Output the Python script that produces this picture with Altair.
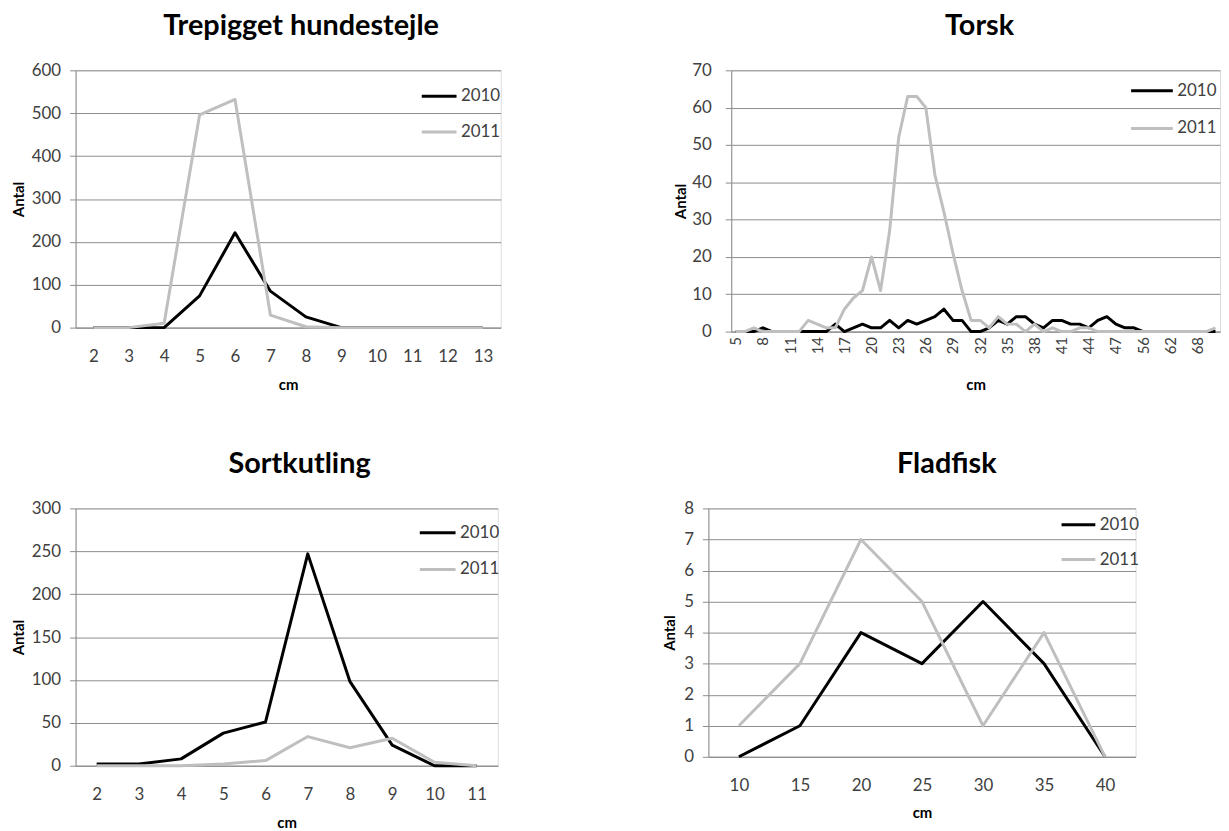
import altair as alt
import pandas as pd

YEARS = ["2010", "2011"]
COLORS = ["#000000", "#bfbfbf"]

# --- Trepigget hundestejle ---
tre_cm = ["2", "3", "4", "5", "6", "7", "8", "9", "10", "11", "12", "13"]
tre_2010 = [0, 0, 0, 74, 221, 85, 25, 0, 0, 0, 0, 0]
tre_2011 = [0, 0, 10, 496, 532, 29, 2, 0, 0, 0, 0, 0]
tre_ticks = [0, 100, 200, 300, 400, 500, 600]

# --- Torsk ---
torsk_cm = ["5", "6", "7", "8", "9", "10", "11", "12", "13", "14", "15",
            "16", "17", "18", "19", "20", "21", "22", "23", "24", "25",
            "26", "27", "28", "29", "30", "31", "32", "33", "34", "35",
            "36", "37", "38", "39", "40", "41", "42", "43", "44", "45",
            "46", "47", "48", "50", "56", "58", "60", "62", "64", "66",
            "68", "70", "72"]
torsk_2010 = [0, 0, 0, 1, 0, 0, 0, 0, 0, 0, 0,
              2, 0, 1, 2, 1, 1, 3, 1, 3, 2,
              3, 4, 6, 3, 3, 0, 0, 1, 3, 2,
              4, 4, 2, 1, 3, 3, 2, 2, 1, 3,
              4, 2, 1, 1, 0, 0, 0, 0, 0, 0,
              0, 0, 0]
torsk_2011 = [0, 0, 1, 0, 0, 0, 0, 0, 3, 2, 1,
              1, 6, 9, 11, 20, 11, 27, 52, 63, 63,
              60, 42, 32, 21, 11, 3, 3, 1, 4, 2,
              2, 0, 2, 0, 1, 0, 0, 1, 1, 0,
              0, 0, 0, 0, 0, 0, 0, 0, 0, 0,
              0, 0, 1]
torsk_labels = ["5", "8", "11", "14", "17", "20", "23", "26", "29", "32",
                "35", "38", "41", "44", "47", "56", "62", "68"]
torsk_ticks = [0, 10, 20, 30, 40, 50, 60, 70]

# --- Sortkutling ---
sort_cm = ["2", "3", "4", "5", "6", "7", "8", "9", "10", "11"]
sort_2010 = [2, 2, 8, 38, 51, 247, 98, 24, 0, 0]
sort_2011 = [0, 0, 0, 2, 6, 34, 21, 32, 4, 0]
sort_ticks = [0, 50, 100, 150, 200, 250, 300]

# --- Fladfisk ---
flad_cm = ["10", "15", "20", "25", "30", "35", "40"]
flad_2010 = [0, 1, 4, 3, 5, 3, 0]
flad_2011 = [1, 3, 7, 5, 1, 4, 0]
flad_ticks = [0, 1, 2, 3, 4, 5, 6, 7, 8]

FONT = "Lato"
GRID = "#8c8c8c"
LABEL = "#404040"


def panel(title, cats, v2010, v2011, ticks, width, height, title_dx,
          ytitle_x, ylabel_pad, legend_x, legend_y, sym_len, row_pad, cm_y,
          xlabels=None, xangle=0, xlabel_pad=21, xlabel_size=17):
    n = len(cats)
    df = pd.DataFrame({
        "cm": cats + cats,
        "Antal": v2010 + v2011,
        "year": ["2010"] * n + ["2011"] * n,
        "idx": list(range(n)) + list(range(n)),
    })
    xaxis_kw = dict(
        title="cm", labelAngle=xangle, labelPadding=xlabel_pad,
        labelFont=FONT, labelFontSize=xlabel_size, labelColor=LABEL,
        ticks=False, domain=True, domainColor=GRID, grid=False,
        titleFont=FONT, titleFontSize=15, titleFontWeight="bold",
        titleColor="#000000", titleY=cm_y, titleBaseline="middle",
        titleX=width / 2, titleAlign="center", labelOverlap=False,
    )
    if xlabels is not None:
        xaxis_kw["values"] = xlabels
    x = alt.X("cm:N", sort=cats, scale=alt.Scale(padding=0.5),
              axis=alt.Axis(**xaxis_kw))
    y = alt.Y("Antal:Q",
              scale=alt.Scale(domain=[ticks[0], ticks[-1]], nice=False, zero=True),
              axis=alt.Axis(
                  title="Antal", values=ticks, grid=True, gridColor=GRID,
                  gridWidth=1, domain=True, domainColor=GRID, ticks=True,
                  tickColor=GRID, tickSize=6, labelFont=FONT,
                  labelFontSize=17, labelColor=LABEL, labelPadding=ylabel_pad,
                  titleFont=FONT, titleFontSize=15, titleFontWeight="bold",
                  titleColor="#000000", titleX=ytitle_x, titleY=height / 2,
                  titleAngle=270, titleAlign="center",
                  titleBaseline="middle"))
    color = alt.Color(
        "year:N", scale=alt.Scale(domain=YEARS, range=COLORS),
        legend=alt.Legend(
            title=None, orient="none", legendX=legend_x, legendY=legend_y,
            symbolType="stroke", symbolSize=sym_len * sym_len,
            symbolStrokeWidth=3, labelFont=FONT, labelFontSize=17,
            labelColor=LABEL, labelOffset=3, rowPadding=row_pad, padding=0))
    base = alt.Chart(df).encode(x=x, y=y, color=color,
                                order=alt.Order("idx:Q"))
    l1 = base.transform_filter(alt.datum.year == "2010").mark_line(
        strokeWidth=3, strokeJoin="round")
    l2 = base.transform_filter(alt.datum.year == "2011").mark_line(
        strokeWidth=3, strokeJoin="round")
    return alt.layer(l1, l2).properties(
        width=width, height=height,
        title=alt.TitleParams(
            text=title, font=FONT, fontSize=29, fontWeight="bold",
            color="#000000", anchor="middle", frame="group", dx=title_dx,
            offset=-2, baseline="alphabetic"))


A = panel("Trepigget hundestejle", tre_cm, tre_2010, tre_2011, tre_ticks,
          428, 259, 13, -57, 9, 347, 7, 35, 9, 57)
B = panel("Torsk", torsk_cm, torsk_2010, torsk_2011, torsk_ticks,
          492, 263, 4, -51, 14, 401, -2, 42, 7, 53,
          xlabels=torsk_labels, xangle=270, xlabel_pad=5, xlabel_size=15)
C = panel("Sortkutling", sort_cm, sort_2010, sort_2011, sort_ticks,
          425, 259, 13, -57, 9, 345, 5, 36, 9, 57)
D = panel("Fladfisk", flad_cm, flad_2010, flad_2011, flad_ticks,
          430, 250, 25, -39, 9, 354, -2, 34, 8, 56)

row1 = alt.hconcat(A, B, spacing=232, bounds="flush").resolve_scale(
    color="independent").resolve_legend(color="independent")
row2 = alt.hconcat(C, D, spacing=212, bounds="flush").resolve_scale(
    color="independent").resolve_legend(color="independent")

chart = alt.vconcat(row1, row2, spacing=56).resolve_scale(
    color="independent").resolve_legend(color="independent").properties(
    padding={"left": 3, "top": 0, "right": 0, "bottom": 0}
).configure_view(stroke="transparent").configure(background="white")

chart.save("out.html", embed_options={"renderer": "svg", "actions": False})
